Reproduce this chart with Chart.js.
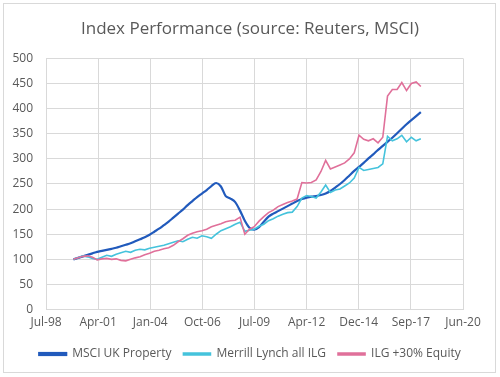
<!DOCTYPE html>
<html>
<head>
<meta charset="utf-8">
<script src="https://cdn.jsdelivr.net/npm/chart.js@4"></script>
<style>
  html, body { margin: 0; padding: 0; background: #fff; }
</style>
</head>
<body>
<canvas id="perfChart" width="500" height="377"></canvas>
<script>
// x axis: Excel style serial dates, one gridline every 1000 days
const xTickLabels = ['Jul-98', 'Apr-01', 'Jan-04', 'Oct-06', 'Jul-09', 'Apr-12', 'Dec-14', 'Sep-17', 'Jun-20'];
const seriesNames = ['MSCI UK Property', 'Merrill Lynch all ILG', 'ILG +30% Equity'];

// quarterly readings, Jan 2000 .. Apr 2018
const msciProperty = [
    100, 103, 106, 109, 112, 115, 117, 119, 121, 123,
    126, 129, 132, 136, 140, 144, 149, 155, 161, 168,
    175, 183, 191, 199, 208, 216, 224, 231, 238, 246,
    252, 245, 226, 221, 214, 197, 177, 163, 159, 164,
    175, 185, 191, 196, 201, 206, 211, 216, 220, 223,
    225, 226, 228, 231, 236, 243, 250, 258, 267, 276,
    284, 292, 301, 309, 318, 326, 334, 342, 351, 360,
    369, 377, 385, 393
];
const merrillIlg = [
    100, 103, 107, 105, 102, 100, 104, 108, 106, 110,
    113, 116, 114, 118, 120, 119, 122, 124, 126, 128,
    131, 134, 137, 135, 140, 144, 142, 147, 145, 142,
    150, 157, 161, 165, 170, 174, 156, 158, 160, 166,
    170, 177, 181, 186, 190, 193, 194, 205, 222, 227,
    225, 222, 234, 248, 233, 238, 240, 246, 252, 262,
    283, 277, 279, 281, 283, 290, 345, 336, 340, 347,
    334, 343, 336, 340
];
const ilgEquity = [
    100, 103, 106, 107, 104, 99, 101, 102, 100, 101,
    98, 97, 100, 103, 105, 109, 112, 116, 118, 121,
    123, 128, 135, 141, 148, 152, 155, 157, 160, 165,
    168, 171, 175, 177, 178, 184, 150, 160, 165, 176,
    185, 193, 198, 205, 209, 213, 216, 220, 253, 252,
    253, 258, 275, 297, 280, 284, 288, 292, 300, 312,
    347, 339, 336, 340, 332, 343, 425, 438, 438, 452,
    436, 450, 453, 444
];

const lineColors = ['#215ABC', '#45C3DC', '#E0709A'];

// Excel serial date of the first day of each quarter
function serial(year, month) {
    return (Date.UTC(year, month, 1) - Date.UTC(1899, 11, 30)) / 86400000;
}
const quarterDates = msciProperty.map((_, i) => serial(2000 + Math.floor(i / 4), (i % 4) * 3));

const toPoints = (values) => values.map((v, i) => ({ x: quarterDates[i], y: v }));

const chartBorder = {
    id: 'chartBorder',
    beforeDraw(chart) {
        const c = chart.ctx;
        c.save();
        c.fillStyle = '#ffffff';
        c.fillRect(0, 0, chart.width, chart.height);
        c.strokeStyle = '#d9d9d9';
        c.lineWidth = 1;
        c.strokeRect(3.5, 3.5, 492, 369);
        c.restore();
    }
};

const textColor = '#595959';
const gridColor = '#d9d9d9';
Chart.defaults.font.family = '"Open Sans", "Noto Sans", sans-serif';

new Chart(document.getElementById('perfChart').getContext('2d'), {
    type: 'line',
    data: {
        datasets: [
            { label: seriesNames[0], data: toPoints(msciProperty), borderColor: lineColors[0], backgroundColor: lineColors[0], borderWidth: 2.2, tension: 0.3, order: 3 },
            { label: seriesNames[1], data: toPoints(merrillIlg), borderColor: lineColors[1], backgroundColor: lineColors[1], borderWidth: 1.6, order: 2 },
            { label: seriesNames[2], data: toPoints(ilgEquity), borderColor: lineColors[2], backgroundColor: lineColors[2], borderWidth: 1.6, order: 1 },
        ],
    },
    options: {
        responsive: false,
        animation: false,
        elements: { point: { radius: 0 } },
        layout: { padding: { left: 0, right: 0, top: 0, bottom: 7 } },
        plugins: {
            title: {
                display: true,
                text: 'Index Performance (source: Reuters, MSCI)',
                color: textColor,
                font: { size: 17, weight: 'normal' },
                padding: { top: 19, bottom: 19 },
            },
            legend: {
                position: 'bottom',
                labels: {
                    color: textColor,
                    font: { size: 12 },
                    boxWidth: 27,
                    boxHeight: 2,
                    padding: 12,
                    sort: (a, b) => a.datasetIndex - b.datasetIndex,
                },
            },
            tooltip: { enabled: false },
        },
        scales: {
            x: {
                type: 'linear',
                min: 36000,
                max: 44000,
                afterBuildTicks: (scale) => {
                    scale.ticks = xTickLabels.map((_, i) => ({ value: 36000 + i * 1000 }));
                },
                ticks: {
                    callback: (v) => xTickLabels[Math.round((v - 36000) / 1000)],
                    color: textColor,
                    font: { size: 12 },
                    padding: 6,
                    maxRotation: 0,
                    autoSkip: false,
                },
                grid: { color: gridColor, drawTicks: false },
                border: { color: gridColor },
            },
            y: {
                min: 0,
                max: 500,
                ticks: { stepSize: 50, color: textColor, font: { size: 12 }, padding: 13 },
                grid: { color: gridColor, drawTicks: false },
                border: { color: gridColor },
                afterFit: (scale) => { scale.width = 46; },
            },
            // empty right-hand gutter so the plot ends where the reference does
            gutter: {
                position: 'right',
                min: 0,
                max: 1,
                ticks: { display: false },
                grid: { display: false, drawTicks: false },
                border: { display: false },
                afterFit: (scale) => { scale.width = 37; },
            },
        },
    },
    plugins: [chartBorder],
});
</script>
</body>
</html>
